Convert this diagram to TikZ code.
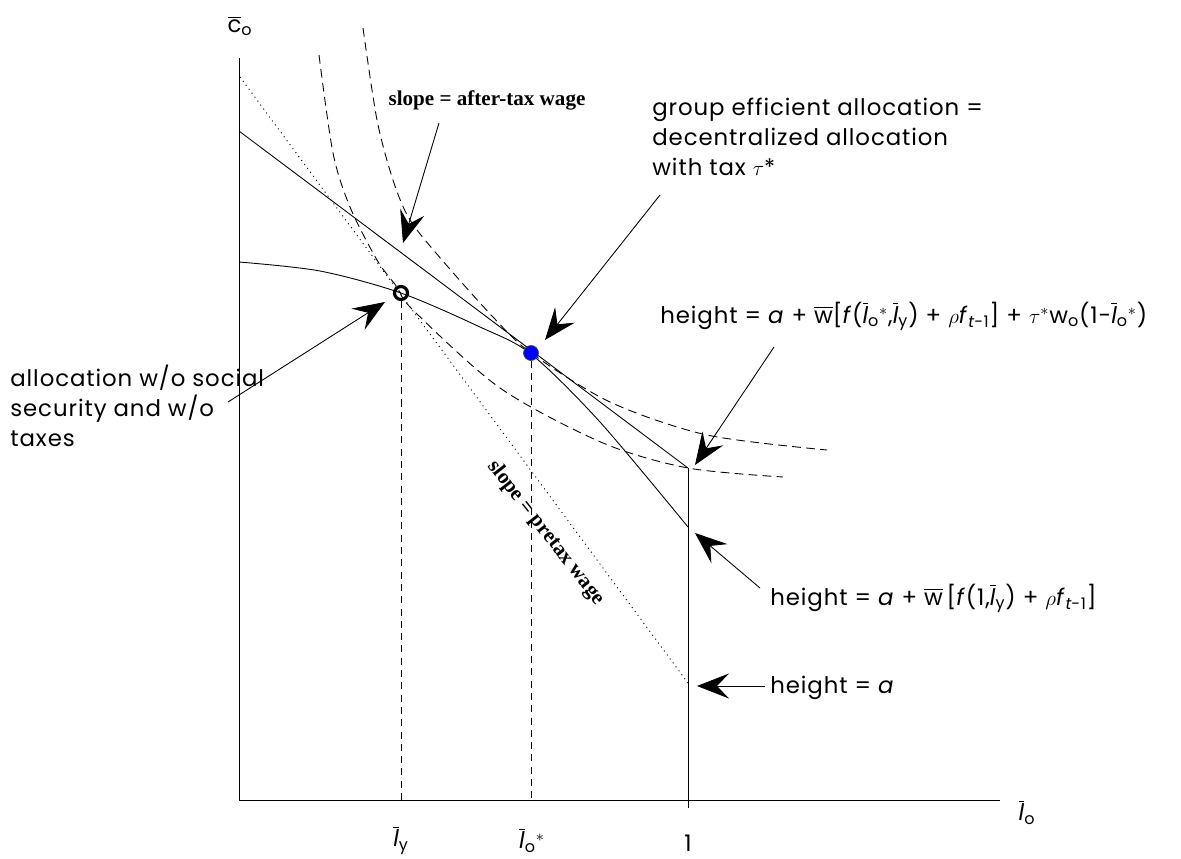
\documentclass[tikz,border=0pt]{standalone}
\usepackage{amsmath}
\usepackage{fontspec}
\setmainfont{Poppins}[LetterSpace=4]
\newfontfamily\slopefont{Liberation Serif}
\usetikzlibrary{arrows.meta}

\newcommand{\lbo}{$\overline{\textit{l}}_{\text{o}}$}
\newcommand{\lby}{$\overline{\textit{l}}_{\text{y}}$}

\tikzset{
  lbl/.style={font=\fontsize{13}{17}\selectfont, align=left, inner sep=0pt},
  slopelbl/.style={font=\fontsize{12}{14}\slopefont\bfseries, inner sep=0pt},
  callout/.style={line width=0.5pt, -{Stealth[length=0.64cm,width=0.5cm,inset=0.24cm]}},
  curve/.style={line width=0.5pt},
  indiff/.style={line width=0.5pt, dash pattern=on 5pt off 3pt},
  guide/.style={line width=0.5pt, dash pattern=on 4pt off 3pt},
  pretaxline/.style={line width=0.5pt, dash pattern=on 0.6pt off 2.2pt},
}

\begin{document}
\begin{tikzpicture}[x=0.02cm,y=-0.02cm]
\useasboundingbox (0,0) rectangle (1181,859);

% axes
\coordinate (O) at (239,800);
\draw[curve] (239,58) -- (O) -- (1000,800);
\node[lbl] (cax) at (240,26) {$\overline{\text{c}}_{\text{o}}$};
\node[lbl] (lax) at (1027,812) {\lbo};

% budget lines
\draw[curve] (239,131) -- (688,468);
\draw[pretaxline] (240,77) -- (688,683);

% frontier
\draw[curve] plot[smooth] coordinates {(239,262) (320,271) (401,293) (480,327) (531,354) (600,422) (688,527)};
\draw[curve] (688,468) -- (688,808);

% indifference curves
\draw[indiff] plot[smooth] coordinates {(363,28) (377,120) (393,180) (410,220) (442,260) (493,317) (531,353) (610,402) (707,435) (827,450)};
\draw[indiff] plot[smooth] coordinates {(319,55) (333,153) (350,207) (377,260) (397,287) (413,310) (500,388) (603,443) (688,468) (783,477)};

% allocations
\node[circle, draw, line width=1.8pt, minimum size=0.26cm, inner sep=0pt] (noss) at (401,293) {};
\node[circle, draw=black!70, fill=blue, minimum size=0.3cm, inner sep=0pt] (geff) at (531,353) {};
\draw[guide] (noss.south) -- (noss.south |- O);
\draw[guide] (geff.south) -- (geff.south |- O);

% ticks
\node[lbl] (ly) at (401,840) {\lby};
\node[lbl] (lo) at (532,840) {\lbo$^*$};
\node[lbl] (one) at (688,843) {1};

% labels
\node[slopelbl] (aftertax) at (487,100) {slope = after-tax wage};
\node[slopelbl, rotate=-52] (pretax) at (546,533) {slope = pretax wage};
\node[lbl, anchor=north west] (geffl) at (652,98) {group efficient allocation =\\decentralized allocation\\with tax $\tau$*};
\node[lbl, anchor=north west] (nossl) at (10,365) {allocation w/o social\\security and w/o\\taxes};
\node[lbl, anchor=base west] (h1) at (660,323) {height = \textit{a} + $\overline{\text{w}}$[\textit{f}(\lbo$^*$,\lby) + $\rho$\textit{f}$_{\textit{t}\text{-1}}$] + $\tau^*$w$_{\text{o}}$(1-\lbo$^*$)};
\node[lbl, anchor=base west] (h2) at (770,605) {height = \textit{a} + $\overline{\text{w}}$\,[\textit{f}(1,\lby) + $\rho$\textit{f}$_{\textit{t}\text{-1}}$]};
\node[lbl, anchor=base west] (h3) at (770,693) {height = \textit{a}};

% arrows
\coordinate (a1) at (439,123);  \coordinate (t1) at (403,243);
\coordinate (a2) at (660,195);  \coordinate (t2) at (545,340);
\coordinate (a3) at (228,402);  \coordinate (t3) at (385,302);
\coordinate (a4) at (774,347);  \coordinate (t4) at (695,465);
\coordinate (a5) at (760,588);  \coordinate (t5) at (695,533);
\coordinate (a6) at (765,686);  \coordinate (t6) at (697,686);
\draw[callout] (a1) -- (t1);
\draw[callout] (a2) -- (t2);
\draw[callout] (a3) -- (t3);
\draw[callout] (a4) -- (t4);
\draw[callout] (a5) -- (t5);
\draw[callout] (a6) -- (t6);

\end{tikzpicture}
\end{document}
